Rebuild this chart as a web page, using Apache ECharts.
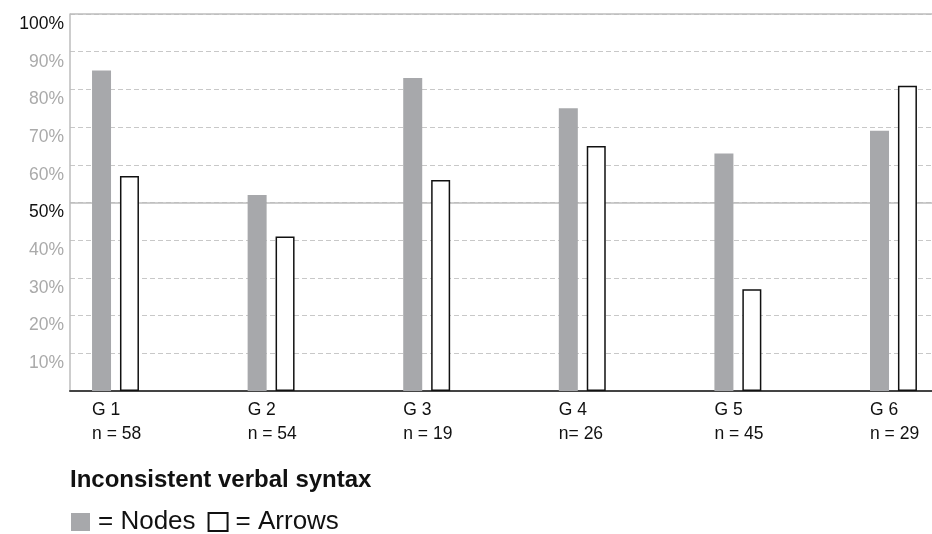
<!DOCTYPE html>
<html>
<head>
<meta charset="utf-8">
<script src="https://cdn.jsdelivr.net/npm/echarts@6/dist/echarts.min.js"></script>
<style>
html,body{margin:0;padding:0;background:#fff;}
#chart{width:932px;height:534px;}
</style>
</head>
<body>
<div id="chart"></div>
<script>
var categories = ['G 1', 'G 2', 'G 3', 'G 4', 'G 5', 'G 6'];
var sampleLabels = ['n = 58', 'n = 54', 'n = 19', 'n= 26', 'n = 45', 'n = 29'];
var seriesNames = ['Nodes', 'Arrows'];
var nodesValues = [85, 52, 83, 75, 63, 69];
var arrowsValues = [57, 41, 56, 65, 27, 81];
var titleText = 'Inconsistent verbal syntax';

var FONT = '"Liberation Sans", Arial, Helvetica, sans-serif';
var chart = echarts.init(document.getElementById('chart'), null, {renderer: 'canvas'});

function pairs(vals) {
  return vals.map(function (v, i) { return [i, v]; });
}

var option = {
  animation: false,
  backgroundColor: '#ffffff',
  title: {
    text: titleText,
    left: 70,
    top: 468,
    padding: 0,
    textStyle: {fontFamily: FONT, fontSize: 24, fontWeight: 'bold', color: '#111'}
  },
  legend: {
    left: 71,
    top: 509,
    padding: 0,
    icon: 'rect',
    itemWidth: 19,
    itemHeight: 18,
    itemGap: 12,
    data: seriesNames,
    formatter: '= {name}',
    textStyle: {fontFamily: FONT, fontSize: 26, color: '#111', padding: [0, 0, 0, 3]}
  },
  grid: [
    {left: 70, top: 14, right: 0, bottom: 143, containLabel: false}
  ],
  xAxis: [
    {
      gridIndex: 0, type: 'value', min: 0, max: 1,
      axisLine: {show: true, lineStyle: {color: '#444', width: 2}},
      axisTick: {show: false}, axisLabel: {show: false}, splitLine: {show: false}
    },
    {
      gridIndex: 0, type: 'value', min: -0.2924, max: 5.2476, show: false,
      splitLine: {show: false}
    }
  ],
  yAxis: [
    {
      gridIndex: 0, type: 'value', min: 0, max: 100, interval: 10,
      axisLine: {show: true, lineStyle: {color: '#bdbdbd', width: 1.5}},
      axisTick: {show: false},
      axisLabel: {
        margin: 6,
        fontFamily: FONT,
        fontSize: 17.5,
        verticalAlign: 'top',
        padding: [1, 0, 0, 0],
        formatter: function (v) { return v === 0 ? '' : v + '%'; },
        color: function (v) { return (Number(v) === 50 || Number(v) === 100) ? '#111' : '#aaaaaa'; }
      },
      splitLine: {show: true, lineStyle: {color: '#c8c8c8', width: 1, type: [5, 3]}}
    },
    {
      gridIndex: 0, type: 'value', min: 0, max: 100, interval: 50, position: 'left',
      axisLine: {show: false}, axisTick: {show: false}, axisLabel: {show: false},
      splitLine: {show: true, lineStyle: {color: '#bdbdbd', width: 1.5, type: 'solid'}}
    }
  ],
  series: [
    {
      name: seriesNames[0],
      type: 'bar',
      xAxisIndex: 1, yAxisIndex: 0,
      data: pairs(nodesValues),
      barWidth: 19,
      barGap: '47%',
      itemStyle: {color: '#a7a8ab'},
      label: {
        show: true,
        position: [0, '100%'],
        distance: 0,
        align: 'left',
        verticalAlign: 'top',
        padding: [7, 0, 0, 0],
        fontFamily: FONT,
        fontSize: 17.5,
        lineHeight: 24,
        color: '#111',
        formatter: function (p) { return categories[p.dataIndex] + '\n' + sampleLabels[p.dataIndex]; }
      }
    },
    {
      name: seriesNames[1],
      type: 'bar',
      xAxisIndex: 1, yAxisIndex: 0,
      data: pairs(arrowsValues),
      barWidth: 19,
      barGap: '47%',
      itemStyle: {color: '#ffffff', borderColor: '#111', borderWidth: 1.5}
    }
  ]
};
chart.setOption(option);
</script>
</body>
</html>
